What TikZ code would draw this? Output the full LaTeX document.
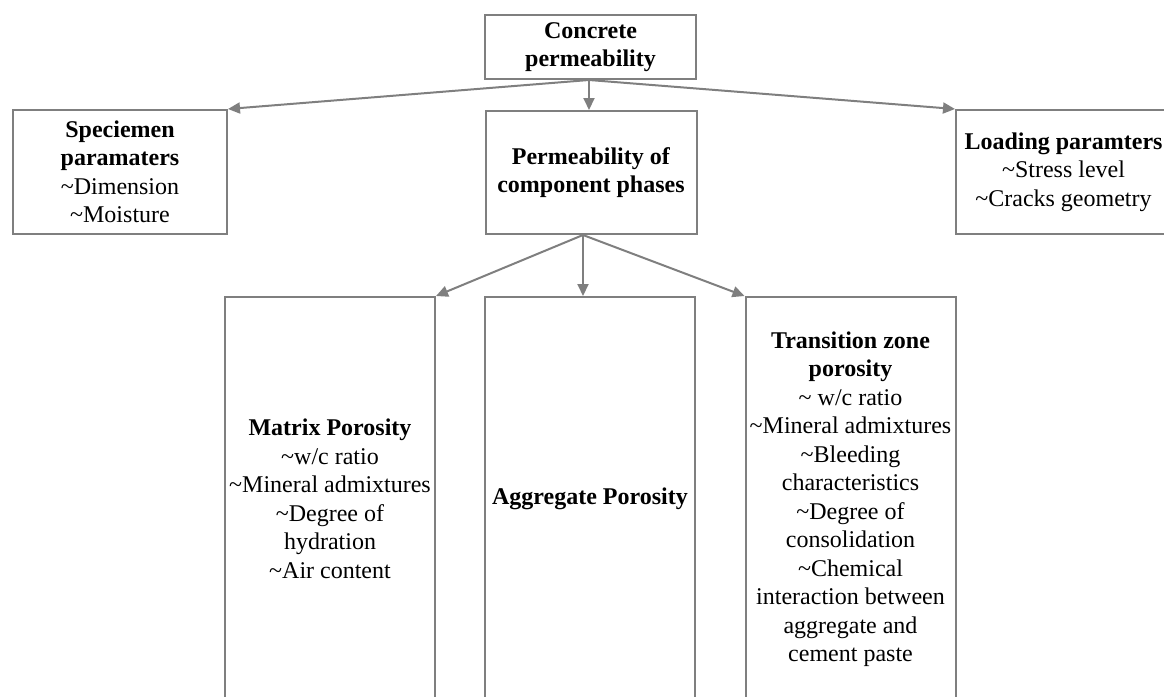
\documentclass[tikz,border=0pt]{standalone}
\usepackage{fontspec}
\setmainfont{Liberation Serif}
\usetikzlibrary{arrows.meta}
\definecolor{lg}{RGB}{127,127,127}
\newcommand{\tl}{\textasciitilde}
\begin{document}
\begin{tikzpicture}[x=1pt,y=-1pt,
  box/.style={draw=lg, line width=2pt, inner sep=0pt, align=center,
    font=\fontsize{24}{28.5}\selectfont},
  arr/.style={draw=lg, line width=2pt, -{Triangle[length=12pt,width=11pt]}}]
\useasboundingbox (0,0) rectangle (1164,696);
\clip (0,0) rectangle (1164,696);
\node[box, minimum width=211pt, minimum height=64pt] (top) at (590.5,47)
  {\textbf{Concrete}\\\textbf{permeability}};
\node[box, minimum width=214pt, minimum height=124pt] (spec) at (120,172)
  {\textbf{Speciemen}\\\textbf{paramaters}\\\tl Dimension\\\tl Moisture};
\node[box, minimum width=211pt, minimum height=123pt] (perm) at (591,172.5)
  {\textbf{Permeability of}\\\textbf{component phases}};
\node[box, minimum width=215pt, minimum height=124pt] (load) at (1063.5,172)
  {\textbf{Loading paramters}\\\tl Stress level\\\tl Cracks geometry};
\node[box, minimum width=210pt, minimum height=404pt] (matrix) at (330,499)
  {\textbf{Matrix Porosity}\\\tl w/c ratio\\\tl Mineral admixtures\\\tl Degree of\\hydration\\\tl Air content};
\node[box, minimum width=210pt, minimum height=404pt] (agg) at (590,499)
  {\textbf{Aggregate Porosity}};
\node[box, minimum width=210pt, minimum height=404pt] (trans) at (850.5,499)
  {\textbf{Transition zone}\\\textbf{porosity}\\\tl{} w/c ratio\\\tl Mineral admixtures\\\tl Bleeding\\characteristics\\\tl Degree of\\consolidation\\\tl Chemical\\interaction between\\aggregate and\\cement paste};
\coordinate (ts) at ([xshift=-1.5pt]top.south);
\draw[arr] (ts) -- (spec.north east);
\draw[arr] (ts) -- (ts |- perm.north);
\draw[arr] (ts) -- (load.north west);
\coordinate (ps) at ([xshift=-8pt]perm.south);
\draw[arr] (ps) -- (matrix.north east);
\draw[arr] (ps) -- (ps |- agg.north);
\draw[arr] (ps) -- (trans.north west);
\end{tikzpicture}
\end{document}
